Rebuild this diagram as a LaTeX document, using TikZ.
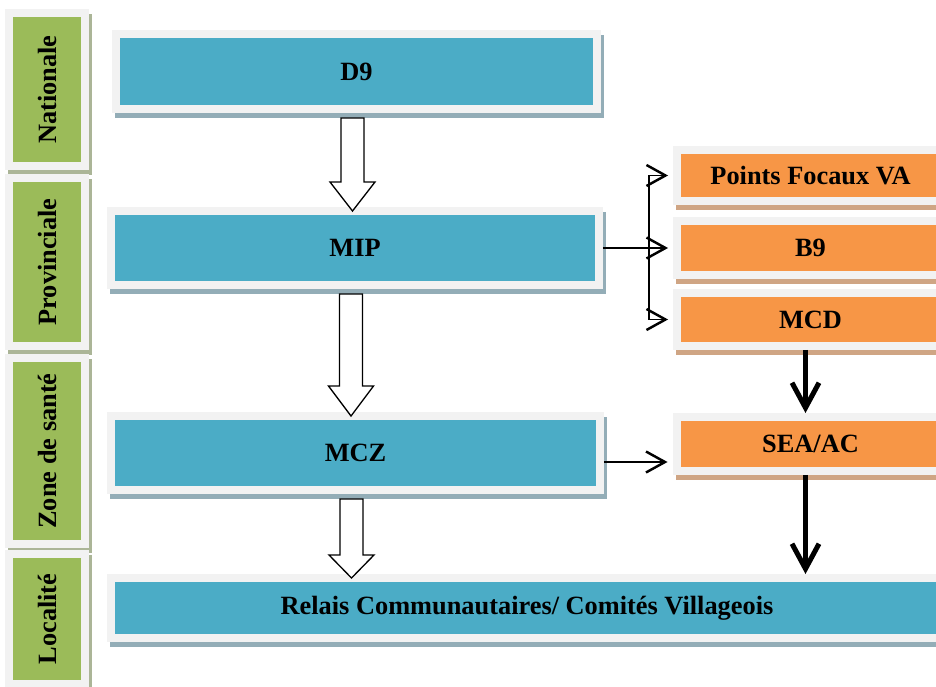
\documentclass[tikz,border=0pt]{standalone}
\usepackage{fontspec}
\setmainfont{Liberation Serif}
\usepackage{graphicx}
\usetikzlibrary{calc,shadows,arrows.meta}

\definecolor{boxblue}{HTML}{4BACC6}
\definecolor{boxgreen}{HTML}{9BBB59}
\definecolor{boxorange}{HTML}{F79646}
\definecolor{framegrey}{HTML}{F2F2F2}
\definecolor{shblue}{HTML}{93ADB7}
\definecolor{shgreen}{HTML}{ABB597}
\definecolor{shorange}{HTML}{CFA584}

\tikzset{
	box/.style={rectangle, inner sep=0pt, draw=framegrey, line width=0.16cm, font=\fontsize{15}{18}\selectfont\bfseries},
	shade box/.style={drop shadow={fill=#1, draw=#1, line width=0.16cm, opacity=1, shadow xshift=0.06cm, shadow yshift=-0.1cm}},
	bluebox/.style={box, fill=boxblue, shade box=shblue},
	greenbox/.style={box, fill=boxgreen, shade box=shgreen, minimum width=1.52cm},
	orangebox/.style={box, fill=boxorange, shade box=shorange, minimum width=5.34cm},
	hollowarr/.style={draw=black, fill=white, line width=0.75pt, line join=miter},
	thinarr/.style={-{Straight Barb[length=0.38cm, width=0.42cm, line width=1.4pt]}, line width=1pt, shorten >=0.1cm},
	thickarr/.style={-{Straight Barb[length=0.5cm, width=0.54cm]}, line width=0.1cm}
}

\newcommand{\blockarrow}[3]{%
	\draw[hollowarr] let \p1=([xshift=-0.08cm,yshift=-0.1cm]#1.south), \p2=([xshift=-0.08cm,yshift=-0.08cm]#2.north) in
		(\x1-0.23cm,\y1) -- (\x1-0.23cm,\y2+#3) -- (\x1-0.45cm,\y2+#3) -- (\x1,\y2) -- (\x1+0.45cm,\y2+#3) -- (\x1+0.23cm,\y2+#3) -- (\x1+0.23cm,\y1) -- cycle;
}

\begin{document}
\begin{tikzpicture}[x=0.02cm, y=-0.02cm]
		\useasboundingbox (0,0) rectangle (936,686);
		\clip (0,0) rectangle (936,686);
		
		\foreach \t/\y/\h [count=\i] in {Nationale/89.5/3.06, Provinciale/262/3.36, Zone de santé/451/3.72, Localité/619/2.6}{
			\node[greenbox, minimum height=\h cm] (l\i) at (47,\y) {\rotatebox{90}{\t}};
		}
		
		\node[bluebox, minimum width=9.62cm, minimum height=1.5cm] (d9) at (356.5,71.5) {D9};
		\node[bluebox, minimum width=9.76cm, minimum height=1.48cm] (mip) at (355,248) {MIP};
		\node[bluebox, minimum width=9.78cm, minimum height=1.48cm] (mcz) at (355.5,453) {MCZ};
		\node[bluebox, minimum width=16.64cm, minimum height=1.2cm] (relais) at (527,608) {Relais Communautaires/ Comités Villageois};
		
		\node[orangebox, minimum height=1.02cm] (pfva) at (810.5,175.5) {Points Focaux VA};
		\node[orangebox, minimum height=1.1cm] (b9) at (810.5,248) {B9};
		\node[orangebox, minimum height=1.06cm] (mcd) at (810.5,319.5) {MCD};
		\node[orangebox, minimum width=5.36cm, minimum height=1.08cm] (seaac) at (810.5,444) {SEA/AC};
		
		\blockarrow{d9}{mip}{0.58cm}
		\blockarrow{mip}{mcz}{0.6cm}
		\blockarrow{mcz}{relais}{0.46cm}
		
		\coordinate (fork) at (649,248);
		\draw[line width=1pt] (mip.east) -- (fork);
		\draw[thinarr] (fork) |- (pfva.west);
		\draw[thinarr] (fork) -- (b9.west);
		\draw[thinarr] (fork) |- (mcd.west);
		\draw[thinarr] ([yshift=-0.18cm]mcz.east) -- ([yshift=-0.18cm]mcz.east -| seaac.west);
		
		\draw[thickarr] ([xshift=-0.1cm]mcd.south) -- ([xshift=-0.1cm]seaac.north);
		\draw[thickarr] ([xshift=-0.1cm]seaac.south) -- ([xshift=-0.1cm]seaac.south |- relais.north);
\end{tikzpicture}
\end{document}
